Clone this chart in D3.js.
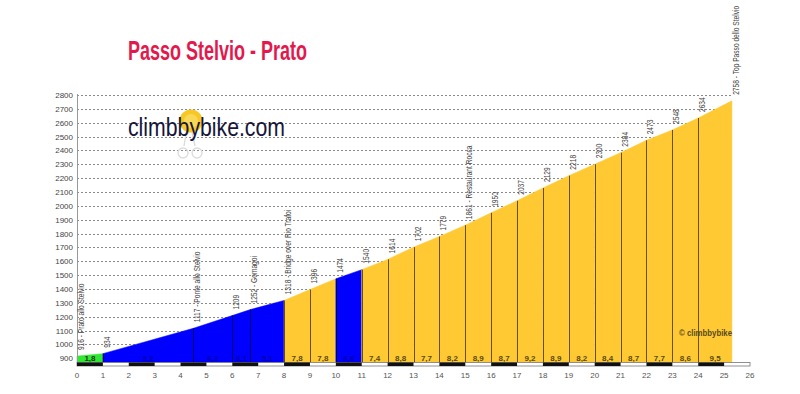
<!DOCTYPE html>
<html><head><meta charset="utf-8">
<script src="https://cdn.jsdelivr.net/npm/d3@7/dist/d3.min.js"></script>
<style>body{margin:0;background:#fff}svg{display:block}</style>
</head><body><svg id="c" width="800" height="394"></svg>
<script>
const km = [0,1,4.5,6,6.7,8,9,10,11,12,13,14,15,16,17,18,19,20,21,22,23,24,25.3];
const elev = [916,934,1117,1209,1252,1318,1396,1474,1540,1614,1702,1779,1861,1950,2037,2129,2218,2300,2384,2473,2548,2634,2758];
const names = ["Prato allo Stelvio","","Ponte allo Stelvio","","Gomagoi","Bridge over Rio Trafoi","","","","","","","Restaurant Rocca","","","","","","","","","","Top Passo dello Stelvio"];
const grades = [1.8,5.2,6.1,6.1,5.1,7.8,7.8,6.6,7.4,8.8,7.7,8.2,8.9,8.7,9.2,8.9,8.2,8.4,8.7,7.7,8.6,9.5];
const yTicks = d3.range(900, 2801, 100);
const xTicks = d3.range(0, 27, 1);
const title = "Passo Stelvio - Prato";

const svg = d3.select("#c");
const x = d3.scaleLinear().domain([0, 26]).range([77, 750]);
const y = d3.scaleLinear().domain([870, 2800]).range([362.5, 95]);
const font = "'Liberation Sans', Arial, sans-serif";

function gradeColor(g){ return g < 3 ? "#33e633" : g < 7 ? "#0000ff" : "#fec932"; }
function gradeText(g){ return g < 3 ? "#1a3a1a" : g < 7 ? "#0000a8" : "#5a4a10"; }

// gridlines
svg.append("g").selectAll("line").data(yTicks).join("line")
  .attr("x1", x(0)).attr("x2", x(25.3))
  .attr("y1", d => Math.round(y(d)) + 0.5).attr("y2", d => Math.round(y(d)) + 0.5)
  .attr("stroke", "#8a8a8a").attr("stroke-width", 1).attr("stroke-dasharray", "2,2");

// y labels
svg.append("g").selectAll("text").data(yTicks).join("text")
  .attr("x", 73).attr("y", d => y(d) + 3)
  .attr("text-anchor", "end").attr("font-family", font).attr("font-size", 8)
  .attr("fill", "#444").text(d => d);

// logo
const logo = svg.append("g");
logo.append("circle").attr("cx", 191).attr("cy", 121).attr("r", 11.5).attr("fill", "#f7c825");
logo.append("circle").attr("cx", 191).attr("cy", 121).attr("r", 7).attr("fill", "#fbe27a").attr("opacity", 0.6);
logo.append("path").attr("d", "M186 134 L184 146 M192 132 L195 146 M183 148 a5 5 0 1 0 0.1 0 M197 148 a5 5 0 1 0 0.1 0")
  .attr("fill", "none").attr("stroke", "#dcdcdc").attr("stroke-width", 1.4);
logo.append("text").attr("x", 128).attr("y", 136).attr("font-family", "'Liberation Sans Narrow', 'Liberation Sans', Arial, sans-serif")
  .attr("font-size", 25).attr("fill", "#15163a").attr("textLength", 157).attr("lengthAdjust", "spacingAndGlyphs")
  .text("climbbybike.com");

// area segments
const segs = grades.map((g, i) => ({g, a: i, b: i + 1}));
const area = d3.area().x(d => x(d[0])).y0(y(870)).y1(d => y(d[1]));
svg.append("g").selectAll("path").data(segs).join("path")
  .attr("d", s => area([[km[s.a], elev[s.a]], [km[s.b], elev[s.b]]]))
  .attr("fill", s => gradeColor(s.g)).attr("stroke", s => gradeColor(s.g)).attr("stroke-width", 0.5);

// vertical lines
svg.append("g").selectAll("line").data(km.slice(1, -1)).join("line")
  .attr("x1", d => Math.round(x(d)) + 0.5).attr("x2", d => Math.round(x(d)) + 0.5)
  .attr("y1", y(870)).attr("y2", (d, i) => y(elev[i + 1]))
  .attr("stroke", "#000").attr("stroke-opacity", 0.6).attr("stroke-width", 1);

// y axis line
svg.append("line").attr("x1", 77.5).attr("x2", 77.5).attr("y1", 94).attr("y2", 366)
  .attr("stroke", "#999").attr("stroke-width", 1);

// grade labels
svg.append("g").selectAll("text").data(segs).join("text")
  .attr("x", s => x((km[s.a] + km[s.b]) / 2)).attr("y", 360.5)
  .attr("text-anchor", "middle").attr("font-family", font).attr("font-size", 8).attr("font-weight", "bold")
  .attr("fill", s => gradeText(s.g)).text(s => String(s.g).replace(".", ","));

// km strip
svg.append("rect").attr("x", x(0)).attr("y", 362.5).attr("width", x(26) - x(0)).attr("height", 3.5)
  .attr("fill", "#fff").attr("stroke", "#777").attr("stroke-width", 0.8);
svg.append("g").selectAll("rect").data(d3.range(0, 26, 2)).join("rect")
  .attr("x", d => x(d)).attr("y", 362.5).attr("width", x(1) - x(0)).attr("height", 3.5).attr("fill", "#111");

// x labels
svg.append("g").selectAll("text").data(xTicks).join("text")
  .attr("x", d => x(d)).attr("y", 378).attr("text-anchor", "middle")
  .attr("font-family", font).attr("font-size", 8).attr("fill", "#555").text(d => d);

// point labels
svg.append("g").selectAll("text").data(km).join("text")
  .attr("transform", (d, i) => `translate(${x(d) + 7},${y(elev[i]) - 6}) rotate(-90) scale(0.78,1)`)
  .attr("font-family", font).attr("font-size", 8.5).attr("fill", "#444")
  .text((d, i) => names[i] ? `${elev[i]} - ${names[i]}` : elev[i]);

// copyright
svg.append("text").attr("x", 679).attr("y", 336).attr("font-family", font).attr("font-size", 8.5)
  .attr("font-weight", "bold").attr("fill", "#5a4a20").attr("textLength", 53).attr("lengthAdjust", "spacingAndGlyphs")
  .text("© climbbybike");

// title
svg.append("text").attr("x", 128).attr("y", 60)
  .attr("font-family", "'Liberation Sans Narrow', 'Liberation Sans', Arial, sans-serif")
  .attr("font-size", 28).attr("font-weight", "bold").attr("fill", "#e2194d")
  .attr("textLength", 179).attr("lengthAdjust", "spacingAndGlyphs").text(title);
</script></body></html>
